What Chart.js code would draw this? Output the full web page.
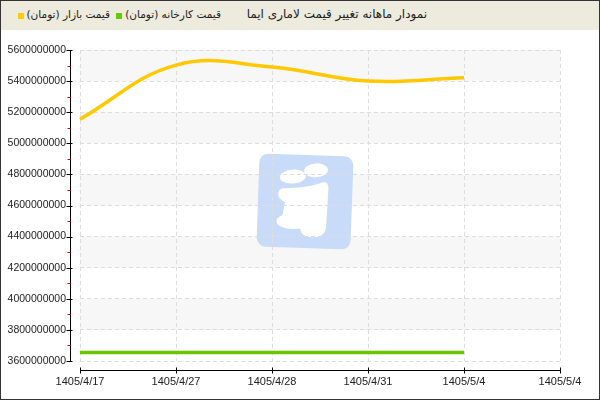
<!DOCTYPE html>
<html>
<head>
<meta charset="utf-8">
<script src="https://cdn.jsdelivr.net/npm/chart.js@4.4.1/dist/chart.umd.min.js"></script>
<style>
  html, body { margin: 0; padding: 0; background: #fff; }
  #wrap { position: relative; width: 600px; height: 400px; overflow: hidden; }
  #head { position: absolute; left: 0; top: 0; width: 600px; height: 30px; background: #ecebdd; }
  #head span { position: absolute; top: 7px; line-height: 16px; font: 12px 'DejaVu Sans', sans-serif; color: #222; direction: rtl; white-space: nowrap; }
  #head span.lg { font-size: 10.5px; top: 8px; }
  #head i { position: absolute; top: 13px; width: 6px; height: 6px; }
  #chart { position: absolute; left: 0; top: 0; }
  #frame { position: absolute; left: 0; top: 0; width: 600px; height: 400px; box-sizing: border-box; border: 1px solid #333; pointer-events: none; }
</style>
</head>
<body>
<div id="wrap">
  <div id="head">
    <span id="title" style="right:173px">نمودار ماهانه تغییر قیمت لاماری ایما</span>
    <i style="left:116px;background:#66cc00"></i>
    <span class="lg" style="right:379px">قیمت کارخانه (تومان)</span>
    <i style="left:18px;background:#ffcc00"></i>
    <span class="lg" style="right:490px">قیمت بازار (تومان)</span>
  </div>
  <canvas id="chart" width="600" height="400"></canvas>
  <div id="frame"></div>
</div>
<script>
// dates (shamsi) on the x axis, last label has no data
const labels = ['1405/4/17', '1405/4/27', '1405/4/28', '1405/4/31', '1405/5/4', '1405/5/4'];
const marketPrice = [5155000000, 5503000000, 5490000000, 5400000000, 5422000000];
const factoryPrice = [3655000000, 3655000000, 3655000000, 3655000000, 3655000000];
const yMin = 3600000000;
const yMax = 5600000000;
const yStep = 200000000;

// alternating bands + logo watermark behind the grid
const backdrop = {
  id: 'backdrop',
  beforeDraw(chart) {
    const { ctx, chartArea: a, scales: { y } } = chart;
    ctx.save();
    ctx.fillStyle = '#f7f7f7';
    const ticks = y.ticks;
    for (let i = ticks.length - 1; i > 0; i -= 2) {
      const top = y.getPixelForValue(ticks[i].value);
      const bot = y.getPixelForValue(ticks[i - 1].value);
      ctx.fillRect(a.left, top, a.right - a.left, bot - top);
    }

    // watermark
    ctx.translate(305, 201);
    ctx.rotate(0.035);
    ctx.fillStyle = '#c8dbf8';
    ctx.beginPath();
    ctx.roundRect(-47, -46, 94, 93, 9);
    ctx.fill();
    ctx.fillStyle = '#ffffff';
    ctx.beginPath();
    ctx.ellipse(10, -31, 12, 7, -0.1, 0, Math.PI * 2);
    ctx.fill();
    ctx.beginPath();
    ctx.ellipse(-13, -24, 13, 7, -0.1, 0, Math.PI * 2);
    ctx.fill();
    ctx.beginPath();
    ctx.moveTo(-22, -12);
    ctx.quadraticCurveTo(0, -13, 14, -18);
    ctx.quadraticCurveTo(22, -22, 23, -14);
    ctx.lineTo(22, 26);
    ctx.quadraticCurveTo(21, 36, 8, 36);
    ctx.quadraticCurveTo(-3, 36, -4, 28);
    ctx.quadraticCurveTo(-20, 30, -27, 24);
    ctx.quadraticCurveTo(-30, 18, -22, 15);
    ctx.lineTo(-20, 2);
    ctx.quadraticCurveTo(-28, -2, -27, -7);
    ctx.quadraticCurveTo(-26, -12, -22, -12);
    ctx.fill();
    ctx.restore();
  }
};

// axis lines sit a few px away from the plot area
const axes = {
  id: 'axes',
  afterDraw(chart) {
    const { ctx, chartArea: a, scales: { x, y } } = chart;
    const ax = a.left - 9.5;
    const ay = a.bottom + 9.5;
    ctx.save();
    ctx.lineWidth = 1;
    ctx.strokeStyle = '#000';
    ctx.beginPath();
    ctx.moveTo(ax, a.top);
    ctx.lineTo(ax, a.bottom);
    ctx.moveTo(a.left, ay);
    ctx.lineTo(a.right, ay);
    y.ticks.forEach(t => {
      const py = Math.round(y.getPixelForValue(t.value)) + 0.5;
      ctx.moveTo(ax - 4, py);
      ctx.lineTo(ax + 2, py);
    });
    labels.forEach((l, i) => {
      const px = Math.round(x.getPixelForValue(i)) + 0.5;
      ctx.moveTo(px, ay - 3);
      ctx.lineTo(px, ay + 3);
    });
    ctx.stroke();

    ctx.strokeStyle = '#e00000';
    ctx.beginPath();
    for (let v = yMin + yStep / 2; v < yMax; v += yStep) {
      const py = Math.round(y.getPixelForValue(v)) + 0.5;
      ctx.moveTo(ax - 3, py);
      ctx.lineTo(ax, py);
    }
    ctx.stroke();
    ctx.restore();
  }
};

new Chart(document.getElementById('chart'), {
  type: 'line',
  data: {
    labels: labels,
    datasets: [
      {
        label: 'قیمت بازار (تومان)',
        data: marketPrice,
        borderColor: '#ffc800',
        borderWidth: 3.5,
        tension: 0.4,
        pointRadius: 0,
        fill: false
      },
      {
        label: 'قیمت کارخانه (تومان)',
        data: factoryPrice,
        borderColor: '#66c800',
        borderWidth: 3.5,
        tension: 0.4,
        pointRadius: 0,
        fill: false
      }
    ]
  },
  options: {
    responsive: false,
    animation: false,
    layout: { padding: { top: 50, left: 0, right: 40, bottom: 0 } },
    plugins: {
      legend: { display: false },
      title: { display: false },
      tooltip: { enabled: false }
    },
    scales: {
      x: {
        offset: false,
        afterFit: s => { s.height = 39; },
        border: { display: false, dash: [4, 3] },
        grid: { color: '#dddddd', drawTicks: false, offset: false },
        ticks: {
          padding: 14,
          maxRotation: 0,
          autoSkip: false,
          color: '#222',
          font: { family: "'Liberation Sans', sans-serif", size: 11 }
        }
      },
      y: {
        min: yMin,
        max: yMax,
        afterFit: s => { s.width = 80; },
        border: { display: false, dash: [4, 3] },
        grid: { color: '#dddddd', drawTicks: false },
        ticks: {
          stepSize: yStep,
          padding: 14,
          color: '#222',
          font: { family: "'Liberation Sans', sans-serif", size: 10.5 },
          callback: v => String(v)
        }
      }
    }
  },
  plugins: [backdrop, axes]
});
</script>
</body>
</html>
